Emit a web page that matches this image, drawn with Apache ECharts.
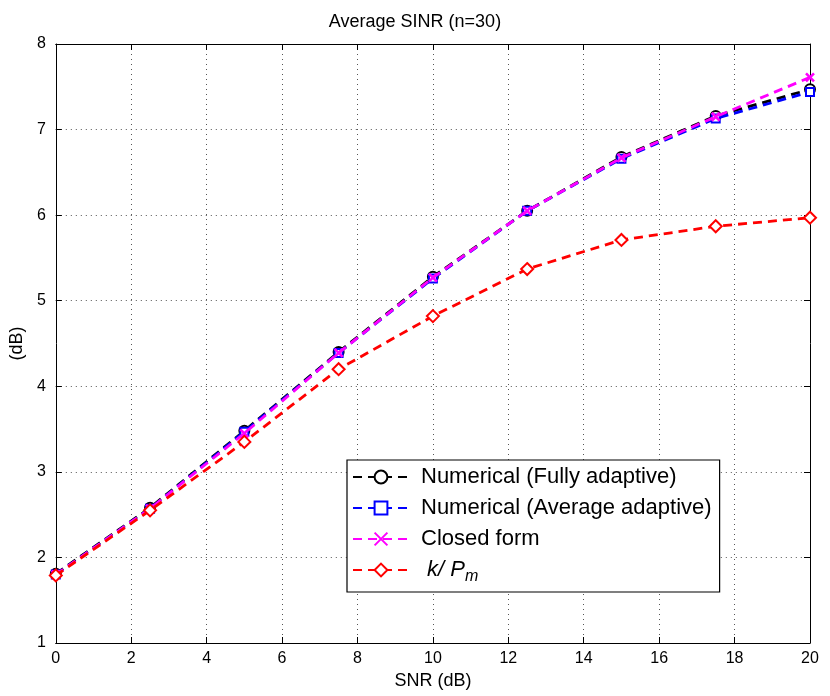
<!DOCTYPE html>
<html><head><meta charset="utf-8">
<script src="https://cdn.jsdelivr.net/npm/echarts@6/dist/echarts.min.js"></script>
<style>html,body{margin:0;padding:0;background:#fff}#c{width:830px;height:696px}</style>
</head><body><div id="c"></div>
<script>
const snr = [0, 2.5, 5, 7.5, 10, 12.5, 15, 17.5, 20];
const fullyAdaptive = [1.81, 2.58, 3.48, 4.40, 5.28, 6.05, 6.68, 7.16, 7.47];
const averageAdaptive = [1.80, 2.57, 3.47, 4.39, 5.26, 6.05, 6.66, 7.13, 7.44];
const closedForm = [1.80, 2.57, 3.45, 4.39, 5.27, 6.05, 6.67, 7.15, 7.61];
const kOverPm = [1.79, 2.55, 3.35, 4.20, 4.82, 5.37, 5.71, 5.87, 5.97];
const xTicks = [0, 2, 4, 6, 8, 10, 12, 14, 16, 18, 20];
const yTicks = [1, 2, 3, 4, 5, 6, 7, 8];
const names = ['Numerical (Fully adaptive)', 'Numerical (Average adaptive)', 'Closed form', 'k/ Pm'];

const F = 'Liberation Sans, Arial, Helvetica, sans-serif';
const chart = echarts.init(document.getElementById('c'));
function pairs(ys){ return snr.map((x,i)=>[x, ys[i]]); }
function ser(name, ys, color, symbol, size, fill, z){
  return {
    name, type:'line', data: pairs(ys), symbol, symbolSize: size, z,
    showAllSymbol: true,
    lineStyle:{color, width:2.8, type:[9,6]},
    itemStyle:{color: fill, borderColor: color, borderWidth:2.6},
    emphasis:{disabled:true}, animation:false
  };
}
const xCross = 'path://M0,0 L10,10 M10,0 L0,10';
chart.setOption({
  animation:false,
  title:{text:'Average SINR (n=30)', left:'center', top:8,
    textStyle:{fontFamily:F, fontSize:18, fontWeight:'normal', color:'#000'}},
  grid:{left:52, right:20, top:44, bottom:53, show:false},
  legend:{
    left:347, top:460, width:372, orient:'vertical', itemGap:9,
    padding:[6,8,7,5],
    borderColor:'#000', borderWidth:1.2, backgroundColor:'#fff',
    itemWidth:56, itemHeight:16,
    data: names,
    formatter: n => n === 'k/ Pm' ? '{it| k/ P}{sub|m}' : n,
    textStyle:{fontFamily:F, fontSize:22, color:'#000', padding:[0,0,0,7],
      rich:{ it:{fontFamily:F, fontSize:22, fontStyle:'italic', color:'#000'},
             sub:{fontFamily:F, fontSize:16, fontStyle:'italic', color:'#000', padding:[14,0,0,0]} }}
  },
  xAxis:[{
    type:'value', min:0, max:20, interval:2, position:'bottom',
    name:'SNR (dB)', nameLocation:'middle', nameGap:29,
    nameTextStyle:{fontFamily:F, fontSize:18, color:'#000'},
    axisLine:{show:true, onZero:false, lineStyle:{color:'#000', width:1}},
    axisTick:{show:true, inside:true, length:6, lineStyle:{color:'#000'}},
    axisLabel:{fontFamily:F, fontSize:16, color:'#000', margin:8},
    splitLine:{show:true, lineStyle:{color:'#555', type:[1,4], width:1}}
  },{
    type:'value', min:0, max:20, interval:2, position:'top',
    axisLine:{show:true, onZero:false, lineStyle:{color:'#000', width:1}},
    axisTick:{show:true, inside:true, length:6, lineStyle:{color:'#000'}},
    axisLabel:{show:false}, splitLine:{show:false}
  }],
  yAxis:[{
    type:'value', min:1, max:8, interval:1, position:'left',
    name:'(dB)', nameLocation:'middle', nameGap:27, nameRotate:90,
    nameTextStyle:{fontFamily:F, fontSize:18, color:'#000'},
    axisLine:{show:true, onZero:false, lineStyle:{color:'#000', width:1}},
    axisTick:{show:true, inside:true, length:6, lineStyle:{color:'#000'}},
    axisLabel:{fontFamily:F, fontSize:16, color:'#000', margin:10},
    splitLine:{show:true, lineStyle:{color:'#555', type:[1,4], width:1}}
  },{
    type:'value', min:1, max:8, interval:1, position:'right',
    axisLine:{show:true, onZero:false, lineStyle:{color:'#000', width:1}},
    axisTick:{show:true, inside:true, length:6, lineStyle:{color:'#000'}},
    axisLabel:{show:false}, splitLine:{show:false}
  }],
  series:[
    ser(names[0], fullyAdaptive, '#000000', 'emptyCircle', 10, '#000000', 3),
    ser(names[1], averageAdaptive, '#0000ff', 'emptyRect', 8, '#0000ff', 4),
    ser(names[2], closedForm, '#ff00ff', xCross, 8, '#ff00ff', 5),
    ser(names[3], kOverPm, '#ff0000', 'emptyDiamond', 12, '#ff0000', 6)
  ]
});
</script></body></html>
